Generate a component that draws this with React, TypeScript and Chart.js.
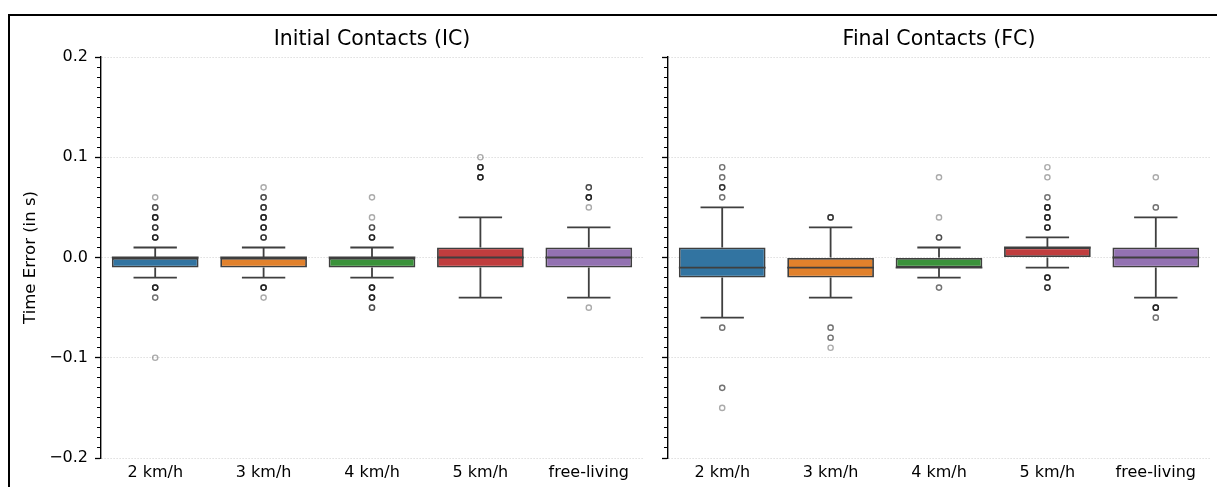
import React, { useEffect, useRef } from 'react';
import { Chart, registerables } from 'chart.js';

Chart.register(...registerables);
Chart.defaults.font.family = "'DejaVu Sans', sans-serif";

// ---------- data ----------
const categories = ['2 km/h', '3 km/h', '4 km/h', '5 km/h', 'free-living'];
const boxColors = ['#3274a1', '#e1812c', '#3a923a', '#c03d3e', '#9372b2'];

const yTickValues = [-0.2, -0.1, 0.0, 0.1, 0.2];
const yTickLabels = ['\u22120.2', '\u22120.1', '0.0', '0.1', '0.2'];

// Initial Contacts (IC)
const icQ1 = [-0.01, -0.01, -0.01, -0.01, -0.01];
const icMedian = [0.0, 0.0, 0.0, 0.0, 0.0];
const icQ3 = [0.0, 0.0, 0.0, 0.01, 0.01];
const icWhiskerLow = [-0.02, -0.02, -0.02, -0.04, -0.04];
const icWhiskerHigh = [0.01, 0.01, 0.01, 0.04, 0.03];
// outliers: [value, number of overlapping points]
const icOutliers: [number, number][][] = [
  [[0.02, 5], [0.03, 4], [0.04, 5], [0.05, 3], [0.06, 1], [-0.03, 5], [-0.04, 2], [-0.1, 1]],
  [[0.02, 4], [0.03, 5], [0.04, 5], [0.05, 4], [0.06, 3], [0.07, 1], [-0.03, 5], [-0.04, 1]],
  [[0.02, 5], [0.03, 3], [0.04, 1], [0.06, 1], [-0.03, 5], [-0.04, 5], [-0.05, 3]],
  [[0.08, 5], [0.09, 5], [0.1, 1]],
  [[0.05, 1], [0.06, 5], [0.07, 3], [-0.05, 1]],
];

// Final Contacts (FC)
const fcQ1 = [-0.02, -0.02, -0.01, 0.0, -0.01];
const fcMedian = [-0.01, -0.01, -0.01, 0.01, 0.0];
const fcQ3 = [0.01, 0.0, 0.0, 0.01, 0.01];
const fcWhiskerLow = [-0.06, -0.04, -0.02, -0.01, -0.04];
const fcWhiskerHigh = [0.05, 0.03, 0.01, 0.02, 0.04];
const fcOutliers: [number, number][][] = [
  [[0.06, 2], [0.07, 4], [0.08, 2], [0.09, 2], [-0.07, 2], [-0.13, 2], [-0.15, 1]],
  [[0.04, 4], [-0.07, 2], [-0.08, 2], [-0.09, 1]],
  [[0.02, 3], [0.04, 1], [0.08, 1], [-0.03, 2]],
  [[0.03, 5], [0.04, 5], [0.05, 5], [0.06, 2], [0.08, 1], [0.09, 1], [-0.02, 5], [-0.03, 4]],
  [[0.05, 2], [0.08, 1], [-0.05, 5], [-0.06, 2]],
];

// ---------- helpers ----------
type Stats = { q1: number[]; med: number[]; q3: number[]; lo: number[]; hi: number[] };

const LINE = '#3f3f3f';
const LW = 1.8;

function boxPartsPlugin(stats: Stats) {
  return {
    id: 'boxParts',
    beforeDatasetsDraw(chart: any) {
      const { ctx } = chart;
      const xs = chart.scales.x;
      const ys = chart.scales.y;
      const meta = chart.getDatasetMeta(0);
      ctx.save();
      ctx.strokeStyle = LINE;
      ctx.lineWidth = LW;
      categories.forEach((_, i) => {
        const cx = xs.getPixelForValue(i);
        const bw = meta.data[i].width;
        const cap = bw / 4;
        const yq1 = ys.getPixelForValue(stats.q1[i]);
        const yq3 = ys.getPixelForValue(stats.q3[i]);
        const ylo = ys.getPixelForValue(stats.lo[i]);
        const yhi = ys.getPixelForValue(stats.hi[i]);
        ctx.beginPath();
        ctx.moveTo(cx, yq3);
        ctx.lineTo(cx, yhi);
        ctx.moveTo(cx - cap, yhi);
        ctx.lineTo(cx + cap, yhi);
        ctx.moveTo(cx, yq1);
        ctx.lineTo(cx, ylo);
        ctx.moveTo(cx - cap, ylo);
        ctx.lineTo(cx + cap, ylo);
        ctx.stroke();
      });
      ctx.restore();
    },
    afterDatasetsDraw(chart: any) {
      const { ctx } = chart;
      const xs = chart.scales.x;
      const ys = chart.scales.y;
      const meta = chart.getDatasetMeta(0);
      ctx.save();
      ctx.strokeStyle = LINE;
      ctx.lineWidth = LW;
      categories.forEach((_, i) => {
        const cx = xs.getPixelForValue(i);
        const bw = meta.data[i].width;
        const ym = ys.getPixelForValue(stats.med[i]);
        ctx.beginPath();
        ctx.moveTo(cx - bw / 2, ym);
        ctx.lineTo(cx + bw / 2, ym);
        ctx.stroke();
      });
      ctx.restore();
    },
  };
}

function makeConfig(
  title: string,
  stats: Stats,
  outliers: [number, number][][],
  showYLabels: boolean,
  yAxisWidth: number,
  padRight: number
): any {
  const outlierPoints: { x: string; y: number }[] = [];
  outliers.forEach((list, i) => {
    list.forEach(([v, n]) => {
      for (let k = 0; k < n; k++) outlierPoints.push({ x: categories[i], y: v });
    });
  });

  return {
    type: 'bar',
    data: {
      labels: categories,
      datasets: [
        {
          type: 'bar',
          data: categories.map((_, i) => [stats.q1[i], stats.q3[i]]),
          backgroundColor: boxColors,
          borderColor: LINE,
          borderWidth: LW,
          borderSkipped: false,
          barPercentage: 0.8,
          categoryPercentage: 1.0,
          xAxisID: 'x',
          yAxisID: 'y',
        },
        {
          type: 'scatter',
          data: outlierPoints,
          pointRadius: 2.6,
          pointBorderWidth: 1.4,
          borderColor: 'rgba(0,0,0,0.33)',
          backgroundColor: 'rgba(255,255,255,0)',
          showLine: false,
          xAxisID: 'x',
          yAxisID: 'y',
        },
      ],
    },
    options: {
      responsive: false,
      animation: false,
      devicePixelRatio: 1,
      events: [],
      layout: { padding: { left: 0, right: padRight, top: 0, bottom: 0 } },
      plugins: {
        legend: { display: false },
        tooltip: { enabled: false },
        title: {
          display: true,
          text: title,
          fullSize: false,
          color: '#000',
          font: { size: 20.5, weight: 'normal' },
          padding: { top: 27.4, bottom: 5 },
        },
      },
      scales: {
        x: {
          type: 'category',
          offset: true,
          grid: { display: false, drawTicks: false },
          border: { display: false },
          ticks: { color: '#000', font: { size: 16 }, padding: 5, maxRotation: 0, autoSkip: false },
          afterFit: (s: any) => {
            s.height = 29;
          },
        },
        y: {
          type: 'linear',
          position: 'left',
          weight: 1,
          min: -0.2,
          max: 0.2,
          afterBuildTicks: (s: any) => {
            s.ticks = yTickValues.map((v) => ({ value: v }));
          },
          afterFit: (s: any) => {
            s.width = yAxisWidth;
          },
          ticks: {
            display: showYLabels,
            padding: 7,
            color: '#000',
            font: { size: 16 },
            callback: (_v: any, i: number) => yTickLabels[i],
          },
          grid: {
            color: '#d6d6d6',
            lineWidth: 0.8,
            tickLength: 6,
            tickWidth: 1.3,
            tickColor: '#000',
          },
          border: { display: true, color: '#000', width: 1.4, dash: [1.5, 1.5] },
          title: {
            display: showYLabels,
            text: 'Time Error (in s)',
            color: '#000',
            font: { size: 16.5 },
            padding: { top: 21, bottom: 0 },
          },
        },
        yMinor: {
          type: 'linear',
          position: 'left',
          weight: 0,
          min: -0.2,
          max: 0.2,
          ticks: { display: false, stepSize: 0.01 },
          grid: { drawOnChartArea: false, tickLength: 4, tickWidth: 1, tickColor: '#000' },
          border: { display: false },
          afterFit: (s: any) => {
            s.width = 0;
          },
        },
      },
    },
    plugins: [boxPartsPlugin(stats)],
  };
}

export default function App() {
  const leftRef = useRef<HTMLCanvasElement>(null);
  const rightRef = useRef<HTMLCanvasElement>(null);

  useEffect(() => {
    const c1 = new Chart(
      leftRef.current as HTMLCanvasElement,
      makeConfig(
        'Initial Contacts (IC)',
        { q1: icQ1, med: icMedian, q3: icQ3, lo: icWhiskerLow, hi: icWhiskerHigh },
        icOutliers,
        true,
        101,
        12
      )
    );
    const c2 = new Chart(
      rightRef.current as HTMLCanvasElement,
      makeConfig(
        'Final Contacts (FC)',
        { q1: fcQ1, med: fcMedian, q3: fcQ3, lo: fcWhiskerLow, hi: fcWhiskerHigh },
        fcOutliers,
        false,
        13,
        7
      )
    );
    return () => {
      c1.destroy();
      c2.destroy();
    };
  }, []);

  return (
    <div
      style={{
        position: 'fixed',
        left: 0,
        top: 0,
        width: 1217,
        height: 487,
        background: '#fff',
        overflow: 'hidden',
      }}
    >
      <div
        style={{
          position: 'absolute',
          left: 8,
          top: 14,
          width: 1400,
          height: 700,
          borderTop: '2px solid #000',
          borderLeft: '2px solid #000',
        }}
      />
      <canvas ref={leftRef} width={655} height={487} style={{ position: 'absolute', left: 0, top: 0 }} />
      <canvas ref={rightRef} width={562} height={487} style={{ position: 'absolute', left: 655, top: 0 }} />
    </div>
  );
}
